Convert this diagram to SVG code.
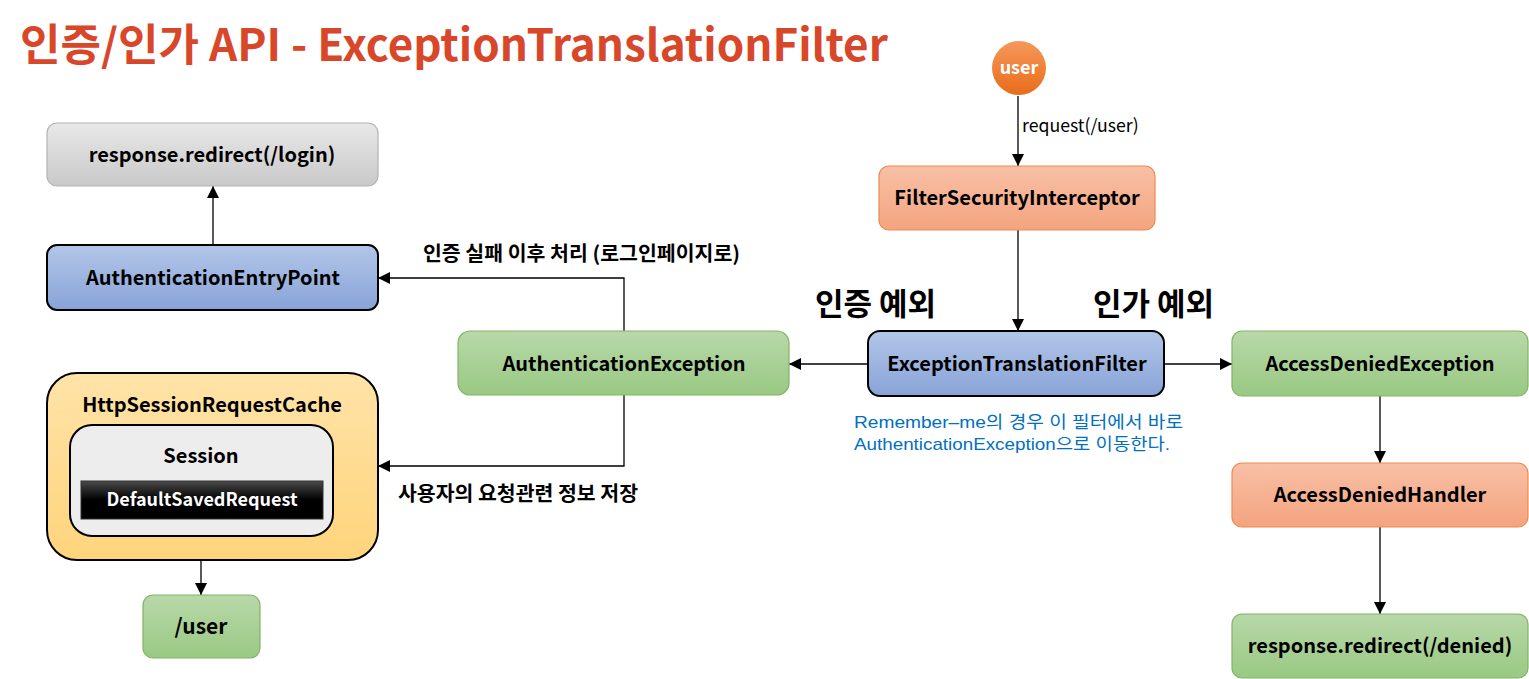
<svg xmlns="http://www.w3.org/2000/svg" width="1529" height="679" viewBox="0 0 1529 679">
<defs>
<linearGradient id="gGreen" x1="0" y1="0" x2="0" y2="1"><stop offset="0" stop-color="#b8d8a9"/><stop offset="1" stop-color="#99c983"/></linearGradient>
<linearGradient id="gSalmon" x1="0" y1="0" x2="0" y2="1"><stop offset="0" stop-color="#f8c0a6"/><stop offset="1" stop-color="#f4a47f"/></linearGradient>
<linearGradient id="gBlue" x1="0" y1="0" x2="0" y2="1"><stop offset="0" stop-color="#b2c6e8"/><stop offset="1" stop-color="#88a3d8"/></linearGradient>
<linearGradient id="gGray" x1="0" y1="0" x2="0" y2="1"><stop offset="0" stop-color="#e8e8e8"/><stop offset="1" stop-color="#c9c9c9"/></linearGradient>
<linearGradient id="gOrange" x1="0" y1="0" x2="0" y2="1"><stop offset="0" stop-color="#ffe3a8"/><stop offset="1" stop-color="#ffd47c"/></linearGradient>
<linearGradient id="gBlack" x1="0" y1="0" x2="0" y2="1"><stop offset="0" stop-color="#4a4a4a"/><stop offset="0.5" stop-color="#000"/><stop offset="1" stop-color="#000"/></linearGradient>
<linearGradient id="gUser" x1="0" y1="0" x2="0" y2="1"><stop offset="0" stop-color="#f5985a"/><stop offset="1" stop-color="#e96c1a"/></linearGradient>
<marker id="arr" viewBox="0 0 12 12" refX="12" refY="6" markerWidth="12" markerHeight="12" markerUnits="userSpaceOnUse" orient="auto"><path d="M0,0 L12,6 L0,12 z" fill="#000"/></marker>
</defs>
<style>
text{font-family:"Noto Sans CJK KR","Open Sans",sans-serif;}
.lbl{font-size:20px;font-weight:bold;fill:#000;text-anchor:middle;}
.green{fill:url(#gGreen);stroke:#82b366;stroke-width:1.2;}
.salmon{fill:url(#gSalmon);stroke:#ee8a50;stroke-width:1.2;}
.blue{fill:url(#gBlue);stroke:#000;stroke-width:2;}
.gray{fill:url(#gGray);stroke:#b3b3b3;stroke-width:1.2;}
.edge{fill:none;stroke:#000;stroke-width:1.3;marker-end:url(#arr);}
.note{font-size:20px;font-weight:bold;fill:#000;}
.big{font-size:31px;font-weight:bold;fill:#000;}
.blueTxt{font-family:"Liberation Sans","Noto Sans CJK KR",sans-serif;font-size:17px;fill:#0070c0;}
</style>

<text x="20" y="61" style="font-size:44px;font-weight:bold;fill:#d9472b;">인증/인가 API - ExceptionTranslationFilter</text>

<g id="connectors">
<path class="edge" d="M1018,96 V166"/>
<path class="edge" d="M1018,230 V331"/>
<path class="edge" d="M868,364 H789"/>
<path class="edge" d="M1164,364 H1232"/>
<path class="edge" d="M624,331 V278 H378"/>
<path class="edge" d="M624,395 V466 H378"/>
<path class="edge" d="M213,245 V186"/>
<path class="edge" d="M201,519 V595"/>
<path class="edge" d="M1380,396 V463"/>
<path class="edge" d="M1380,527 V614"/>
<text x="1022" y="132" style="font-size:17.7px;fill:#000;">request(/user)</text>
<text x="423" y="261" class="note" textLength="317" lengthAdjust="spacingAndGlyphs">인증 실패 이후 처리 (로그인페이지로)</text>
<text x="398" y="501" class="note" textLength="240" lengthAdjust="spacingAndGlyphs">사용자의 요청관련 정보 저장</text>
<text x="815" y="315" class="big">인증 예외</text>
<text x="1093" y="315" class="big">인가 예외</text>
<text x="854" y="428" class="blueTxt" textLength="329" lengthAdjust="spacingAndGlyphs">Remember–me의 경우 이 필터에서 바로</text>
<text x="854" y="450" class="blueTxt" textLength="316" lengthAdjust="spacingAndGlyphs">AuthenticationException으로 이동한다.</text>
</g>

<g id="redirect-login">
<rect class="gray" x="47" y="123" width="331" height="63" rx="10"/>
<text class="lbl" x="212" y="162">response.redirect(/login)</text>
</g>
<g id="authentication-entry-point">
<rect class="blue" x="47" y="245" width="331" height="65" rx="10"/>
<text class="lbl" x="213" y="285">AuthenticationEntryPoint</text>
</g>
<g id="http-session-request-cache">
<rect x="47" y="373" width="331" height="187" rx="30" fill="url(#gOrange)" stroke="#000" stroke-width="2"/>
<text class="lbl" x="212" y="412">HttpSessionRequestCache</text>
<g id="session">
<rect x="70" y="425" width="263" height="111" rx="22" fill="#ededed" stroke="#000" stroke-width="2"/>
<text class="lbl" x="201" y="463">Session</text>
</g>
<g id="default-saved-request">
<rect x="81" y="481" width="242" height="38" fill="url(#gBlack)" stroke="#333" stroke-width="1"/>
<text class="lbl" x="202" y="506" style="fill:#fff;font-size:18px;">DefaultSavedRequest</text>
</g>
</g>
<g id="user-path">
<rect class="green" x="143" y="595" width="117" height="63" rx="10"/>
<text class="lbl" x="201" y="634" style="font-size:21px;">/user</text>
</g>
<g id="authentication-exception">
<rect class="green" x="458" y="331" width="331" height="64" rx="12"/>
<text class="lbl" x="624" y="371">AuthenticationException</text>
</g>
<g id="user">
<circle cx="1019" cy="68" r="27" fill="url(#gUser)"/>
<text class="lbl" x="1019" y="74" style="fill:#fff;font-size:18px;">user</text>
</g>
<g id="filter-security-interceptor">
<rect class="salmon" x="879" y="166" width="276" height="64" rx="10"/>
<text class="lbl" x="1017" y="205">FilterSecurityInterceptor</text>
</g>
<g id="exception-translation-filter">
<rect class="blue" x="868" y="331" width="296" height="65" rx="12"/>
<text class="lbl" x="1017" y="371">ExceptionTranslationFilter</text>
</g>
<g id="access-denied-exception">
<rect class="green" x="1232" y="331" width="296" height="65" rx="10"/>
<text class="lbl" x="1380" y="371">AccessDeniedException</text>
</g>
<g id="access-denied-handler">
<rect class="salmon" x="1232" y="463" width="296" height="64" rx="10"/>
<text class="lbl" x="1380" y="502">AccessDeniedHandler</text>
</g>
<g id="redirect-denied">
<rect class="green" x="1232" y="614" width="296" height="64" rx="10"/>
<text class="lbl" x="1380" y="653">response.redirect(/denied)</text>
</g>
</svg>
